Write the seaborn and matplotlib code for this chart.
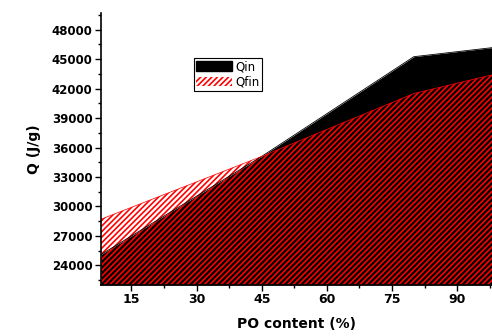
import matplotlib
matplotlib.use("Agg")
import matplotlib.pyplot as plt
from matplotlib.patches import Patch
import seaborn as sns
import pandas as pd

# data
po_content = [8, 45, 80, 98]
q_in = [25100, 35100, 45250, 46170]
q_fin = [28700, 35100, 41500, 43400]
series_labels = ["Qin", "Qfin"]
x_ticks = [15, 30, 45, 60, 75, 90]
y_ticks = [24000, 27000, 30000, 33000, 36000, 39000, 42000, 45000, 48000]

df = pd.DataFrame({"PO": po_content, "Qin": q_in, "Qfin": q_fin})

sns.set_style("ticks")
plt.rcParams["font.family"] = ["DejaVu Sans"]
plt.rcParams["hatch.linewidth"] = 1.2
plt.rcParams["text.color"] = "black"
plt.rcParams["axes.labelcolor"] = "black"
plt.rcParams["xtick.color"] = "black"
plt.rcParams["ytick.color"] = "black"

fig = plt.figure(figsize=(4.92, 3.36), dpi=100)
ax = fig.add_axes([101 / 492, 51 / 336, 391 / 492, 272 / 336])

y_bottom = 22000
ax.set_xlim(8, 98)
ax.set_ylim(y_bottom, 49700)

# Qin: solid black area
sns.lineplot(data=df, x="PO", y="Qin", color="black", lw=0.6, ax=ax)
ax.fill_between(df["PO"], df["Qin"], y_bottom, facecolor="black", lw=0)

# Qfin: red hatched area on top
sns.lineplot(data=df, x="PO", y="Qfin", color="red", lw=0.5, ax=ax)
ax.fill_between(df["PO"], df["Qfin"], y_bottom, facecolor="none",
                edgecolor="red", hatch="//////", lw=0)

ax.set_xticks(x_ticks)
ax.set_xticks([22.5, 37.5, 52.5, 67.5, 82.5, 97.5], minor=True)
ax.set_yticks(y_ticks)
ax.set_yticks([y + 1500 for y in [21000] + y_ticks], minor=True)
ax.set_xticklabels([str(v) for v in x_ticks], fontsize=9, fontweight="bold")
ax.set_yticklabels([str(v) for v in y_ticks], fontsize=8.5, fontweight="bold")
ax.tick_params(which="major", direction="out", length=4, width=1, color="black", pad=2)
ax.tick_params(which="minor", direction="out", length=2.5, width=1, color="black")

sns.despine(ax=ax, top=True, right=True)
for s in ["left", "bottom"]:
    ax.spines[s].set_linewidth(1.2)
    ax.spines[s].set_color("black")

ax.set_xlabel("PO content (%)", fontsize=10, fontweight="bold", labelpad=8)
ax.set_ylabel("Q (J/g)", fontsize=10, fontweight="bold", labelpad=8)

handles = [Patch(facecolor="black", edgecolor="black"),
           Patch(facecolor="white", edgecolor="red", hatch="//////", lw=0)]
leg = ax.legend(handles, series_labels, loc="upper left",
                bbox_to_anchor=(0.238, 0.835), fontsize=8.5, frameon=True,
                fancybox=False, edgecolor="black", framealpha=1,
                borderpad=0.2, labelspacing=0.2, handlelength=3.0,
                handleheight=0.9, handletextpad=0.3, borderaxespad=0)
leg.get_frame().set_linewidth(0.8)

fig.savefig("out.png", dpi=100)
